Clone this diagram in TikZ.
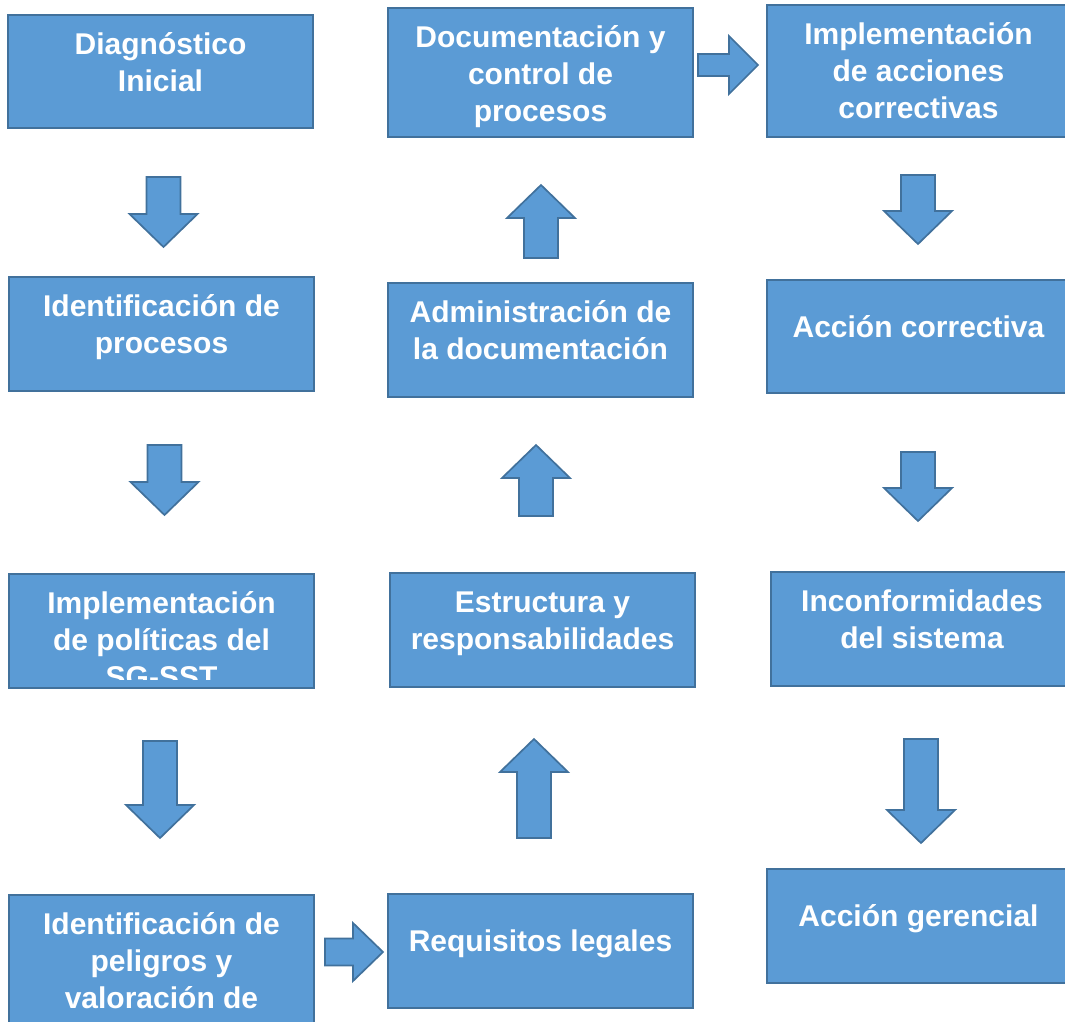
\documentclass[tikz,border=0pt]{standalone}
\usepackage{fontspec}
\setmainfont{Liberation Sans}
\usetikzlibrary{positioning}

\definecolor{boxblue}{HTML}{5B9BD5}
\definecolor{boxline}{HTML}{41719C}

\tikzset{
  box/.style={draw=boxline, fill=boxblue, line width=1.7pt, inner sep=0pt},
  txt/.style={text=white, align=center, inner sep=0pt,
    font=\fontsize{30}{37}\selectfont\bfseries},
  blkarrow/.style={draw=boxline, fill=boxblue, line width=1.7pt, line join=miter},
}

% block arrow: options, length, half shaft, half head, head length
\newcommand{\blkarrow}[5]{%
  \draw[blkarrow,#1] (0,-#3) -- ({#2-#5},-#3) -- ({#2-#5},-#4) -- (#2,0)
    -- ({#2-#5},#4) -- ({#2-#5},#3) -- (0,#3) -- cycle;}

\begin{document}
\begin{tikzpicture}[x=1pt, y=-1pt]
  \useasboundingbox (0,0) rectangle (1065,1021);

  % left column
  \node[box, minimum width=305pt, minimum height=113pt] (diag) at (160.5,71.5) {};
  \node[box, minimum width=305pt, minimum height=114pt] (ident) at (161.5,334) {};
  \node[box, minimum width=305pt, minimum height=114pt] (polit) at (161.5,631) {};
  \node[box, minimum width=305pt, minimum height=150pt] (pelig) at (161.5,970) {};

  % middle column
  \node[box, minimum width=305pt, minimum height=129pt] (docum) at (540.5,72.5) {};
  \node[box, minimum width=305pt, minimum height=114pt] (admin) at (540.5,340) {};
  \node[box, minimum width=305pt, minimum height=114pt] (estru) at (542.5,630) {};
  \node[box, minimum width=305pt, minimum height=114pt] (requi) at (540.5,951) {};

  % right column
  \node[box, minimum width=303pt, minimum height=132pt] (accio) at (918.5,71) {};
  \node[box, minimum width=303pt, minimum height=113pt] (correc) at (918.5,336.5) {};
  \node[box, minimum width=302pt, minimum height=114pt] (incon) at (922,629) {};
  \node[box, minimum width=303pt, minimum height=114pt] (geren) at (918.5,926) {};

  % texts
  \node[txt, below=14.5pt of diag.north] (tdiag) {\strut Diagnóstico\\Inicial};
  \node[txt, below=14.5pt of ident.north] (tident) {\strut Identificación de\\procesos};
  \begin{scope}
    \clip ([yshift=9pt]polit.south west) rectangle (polit.north east);
    \node[txt, below=14.5pt of polit.north] (tpolit) {\strut Implementación\\de políticas del\\SG-SST};
  \end{scope}
  \node[txt, below=14.5pt of pelig.north] (tpelig) {\strut Identificación de\\peligros y\\valoración de};

  \node[txt, below=14.5pt of docum.north] (tdocum) {\strut Documentación y\\control de\\procesos};
  \node[txt, below=14.5pt of admin.north] (tadmin) {\strut Administración de\\la documentación};
  \node[txt, below=14.5pt of estru.north] (testru) {\strut Estructura y\\responsabilidades};
  \node[txt, below=32pt of requi.north] (trequi) {\strut Requisitos legales};

  \node[txt, below=14.5pt of accio.north] (taccio) {\strut Implementación\\de acciones\\correctivas};
  \node[txt, below=32pt of correc.north] (tcorrec) {\strut Acción correctiva};
  \node[txt, below=14.5pt of incon.north] (tincon) {\strut Inconformidades\\del sistema};
  \node[txt, below=32pt of geren.north] (tgeren) {\strut Acción gerencial};

  % arrows down the left
  \blkarrow{shift={(163.5,177)}, rotate=-90}{70}{17}{34}{33}
  \blkarrow{shift={(164.5,445)}, rotate=-90}{70}{17}{34}{33}
  \blkarrow{shift={(160,741)}, rotate=-90}{97}{17}{34}{33}

  % across to the middle
  \blkarrow{shift={(325,952)}}{58}{13.5}{29}{30}

  % arrows up the middle
  \blkarrow{shift={(534,838)}, rotate=90}{99}{17}{34}{33}
  \blkarrow{shift={(536,516)}, rotate=90}{71}{17}{34}{33}
  \blkarrow{shift={(541,258)}, rotate=90}{73}{17}{34}{33}

  % across to the right
  \blkarrow{shift={(698,65)}}{60}{11}{29}{29}

  % arrows down the right
  \blkarrow{shift={(918,175)}, rotate=-90}{69}{17}{34}{33}
  \blkarrow{shift={(918,452)}, rotate=-90}{69}{17}{34}{33}
  \blkarrow{shift={(921,739)}, rotate=-90}{104}{17}{34}{33}
\end{tikzpicture}
\end{document}
